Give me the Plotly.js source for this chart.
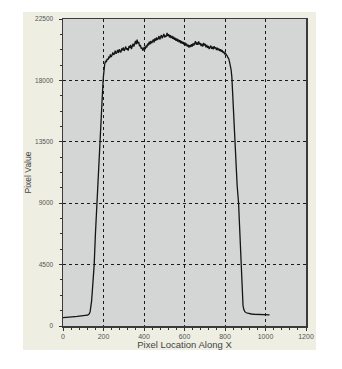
<!DOCTYPE html>
<html>
<head>
<meta charset="utf-8">
<script src="https://cdn.plot.ly/plotly-3.0.1.min.js"></script>
<style>
html,body{margin:0;padding:0;background:#ffffff;}
#wrap{position:absolute;left:23px;top:12px;width:293px;height:338px;}
</style>
</head>
<body>
<div id="wrap"></div>
<script>
// Pixel location along X
const pixelX = [
  0,10,20,30,40,50,60,70,80,90,100,110,120,125,130,134,138,141,145,150,154,160,167,175,182,190,196,199,202,
  206,210,214,218,222,226,230,234,238,242,246,250,254,258,262,266,270,274,278,282,286,290,294,298,
  302,306,310,314,318,322,326,330,334,338,342,346,350,354,358,362,366,370,374,378,382,386,390,394,398,
  402,406,410,414,418,422,426,430,434,438,442,446,450,454,458,462,466,470,474,478,482,486,490,494,498,
  502,506,510,514,518,522,526,530,534,538,542,546,550,554,558,562,566,570,574,578,582,586,590,594,598,
  602,606,610,614,618,622,626,630,634,638,642,646,650,654,658,662,666,670,674,678,682,686,690,694,698,
  702,706,710,714,718,722,726,730,734,738,742,746,750,754,758,762,766,770,774,778,782,786,790,794,798,
  802,806,810,814,818,822,826,830,834,837,840,844,847,853,860,867,873,879,883,886,889,893,898,905,914,930,945,960,980,1000,1015,1020
];
// Pixel value at each location
const pixelValue = [
  620,640,650,660,670,680,690,700,710,720,740,760,790,830,900,1050,1400,1800,2600,3700,4500,6700,9000,11300,13500,15800,17400,18200,18800,
  19200,19420,19350,19580,19500,19700,19640,19900,19720,19850,20050,19880,19960,20180,19950,20060,20240,20010,20280,20120,20050,20340,20200,20420,
  20160,20300,20480,20250,20360,20180,20520,20380,20600,20300,20550,20700,20480,20620,20900,20650,20980,20700,20820,20500,20600,20320,20420,20180,20350,
  20460,20280,20550,20420,20700,20560,20840,20650,20900,20720,20820,21000,20780,21080,20900,21150,20980,21050,21250,21000,21180,21320,21080,21250,21400,
  21150,21300,21200,21480,21250,21380,21150,21320,21100,21250,21050,21200,20980,21120,20900,21080,20850,21000,20800,20950,20720,20880,20680,20820,20600,
  20780,20550,20700,20480,20620,20400,20580,20450,20650,20480,20720,20550,20680,20880,20620,20780,20600,20850,20650,20720,20520,20680,20480,20750,20560,
  20680,20420,20600,20380,20520,20300,20480,20550,20320,20460,20280,20500,20340,20420,20220,20400,20250,20320,20150,20280,20100,20220,20020,20120,19950,
  20000,19880,19820,19680,19600,19380,19150,18800,18200,17200,16000,14500,13500,11800,10300,9000,6800,4500,3000,2000,1500,1200,1050,970,920,880,860,850,830,820,810,810
];
const xTickVals = [0,200,400,600,800,1000,1200];
const xTickText = ["0","200","400","600","800","1000","1200"];
const yTickVals = [0,4500,9000,13500,18000,22500];
const yTickText = ["0","4500","9000","13500","18000","22500"];

const trace = {
  x: pixelX, y: pixelValue, type: 'scatter', mode: 'lines',
  line: {color: '#141414', width: 1.3},
  hoverinfo: 'skip'
};

const axisCommon = {
  showline: true, mirror: true, linecolor: '#3a3a3a', linewidth: 1.5,
  showgrid: true, gridcolor: '#1a1a1a', griddash: 'dot', gridwidth: 1,
  zeroline: false, ticks: 'outside', ticklen: 3, tickwidth: 1, tickcolor: '#333',
  ticklabelstandoff: 0,
  tickfont: {family: 'Liberation Sans, Arial, sans-serif', size: 7, color: '#555'},
  fixedrange: true
};

const layout = {
  width: 293, height: 338,
  margin: {l: 40, r: 10, t: 7, b: 24},
  paper_bgcolor: '#eeeee2',
  plot_bgcolor: '#d4d5d5',
  showlegend: false,
  xaxis: Object.assign({}, axisCommon, {
    range: [0, 1200], tickmode: 'array', tickvals: xTickVals, ticktext: xTickText,
    minor: {dtick: 40, tick0: 0, ticks: 'outside', ticklen: 2, tickcolor: '#333', showgrid: false},
    title: {text: 'Pixel Location Along X', standoff: 3,
            font: {family: 'Liberation Sans, Arial, sans-serif', size: 9.5, color: '#444'}}
  }),
  yaxis: Object.assign({}, axisCommon, {
    range: [0, 22500], tickmode: 'array', tickvals: yTickVals, ticktext: yTickText,
    ticklabelstandoff: 4,
    tickfont: {family: 'Liberation Sans, Arial, sans-serif', size: 6.5, color: '#555'},
    minor: {dtick: 1125, tick0: 0, ticks: 'outside', ticklen: 2, tickcolor: '#333', showgrid: false},
    title: {text: 'Pixel Value', standoff: 5,
            font: {family: 'Liberation Sans, Arial, sans-serif', size: 8.5, color: '#444'}}
  })
};

Plotly.newPlot('wrap', [trace], layout, {displayModeBar: false, staticPlot: true});
</script>
</body>
</html>
